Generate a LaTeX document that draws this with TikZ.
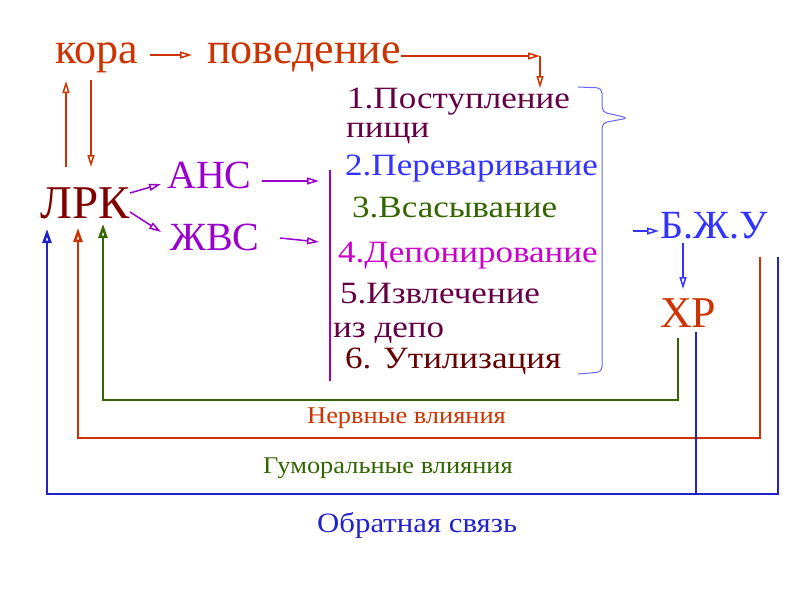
\documentclass[tikz,border=0pt]{standalone}
\usepackage{fontspec}
\setmainfont{Liberation Serif}
\newfontfamily\wideitem[FakeStretch=1.13]{Liberation Serif}
\newfontfamily\widelbl[FakeStretch=1.1]{Liberation Serif}
\usetikzlibrary{arrows.meta}
\definecolor{cred}{RGB}{204,51,0}
\definecolor{cdred}{RGB}{128,0,0}
\definecolor{cpurp}{RGB}{153,0,204}
\definecolor{cplum}{RGB}{102,0,68}
\definecolor{cblue}{RGB}{51,51,255}
\definecolor{cgreen}{RGB}{51,102,0}
\definecolor{cmag}{RGB}{204,0,204}
\definecolor{cmaroon}{RGB}{102,0,0}
\definecolor{cbrace}{RGB}{102,102,255}
\definecolor{cfb}{RGB}{34,34,204}
\begin{document}
\begin{tikzpicture}[x=1pt,y=-1pt,
  lbl/.style={inner sep=0pt, anchor=base west},
  big/.style={font=\fontsize{44}{50}\selectfont},
  mid/.style={font=\fontsize{40}{46}\selectfont},
  item/.style={font=\wideitem\fontsize{31}{36}\selectfont},
  small/.style={font=\widelbl\fontsize{24}{28}\selectfont},
  arr/.style={-{Triangle[open,length=12pt,width=7pt]}, line width=1.5pt},
  fb/.style={line width=2.5pt},
]
\useasboundingbox[fill=white] (0,0) rectangle (800,600);

% top row
\node[lbl,big,text=cred] (kora) at (55,63) {кора};
\node[lbl,big,text=cred] (pov) at (207,63) {поведение};
\node[lbl,font=\fontsize{47}{52}\selectfont,text=cdred] (lrk) at (40,218) {ЛРК};
\node[lbl,mid,text=cpurp] (ans) at (167,188) {АНС};
\node[lbl,mid,text=cpurp] (zhvs) at (170,250) {ЖВС};

% list
\node[lbl,item,text=cplum] (i1) at (347,108) {1.Поступление};
\node[lbl,item,text=cplum] (i1b) at (346,137) {пищи};
\node[lbl,item,text=cblue] (i2) at (345,175) {2.Переваривание};
\node[lbl,item,text=cgreen] (i3) at (352,217) {3.Всасывание};
\node[lbl,item,text=cmag] (i4) at (338,262) {4.Депонирование};
\node[lbl,item,text=cplum] (i5) at (340,303) {5.Извлечение};
\node[lbl,item,text=cplum] (i5b) at (333,337) {из депо};
\node[lbl,item,text=cmaroon] (i6) at (345,368) {6. Утилизация};

% right
\node[lbl,mid,text=cblue] (bzhu) at (660,238) {Б.Ж.У};
\node[lbl,big,text=cred] (xr) at (660,327) {ХР};

% bottom labels
\node[lbl,small,text=cred] (nerv) at (307,423) {Нервные влияния};
\node[lbl,small,text=cgreen] (hum) at (263,473) {Гуморальные влияния};
\node[lbl,font=\widelbl\fontsize{28}{32}\selectfont,text=cfb] (obr) at (317,532) {Обратная связь};

% coordinates
\coordinate (k1) at (150,55); \coordinate (k2) at (192,55);
\coordinate (p1) at (401,56); \coordinate (p2) at (540,56); \coordinate (p3) at (540,88);
\coordinate (u1) at (66,167); \coordinate (u2) at (66,81);
\coordinate (d1) at (91,80); \coordinate (d2) at (91,167);
\coordinate (la1) at (130,193); \coordinate (la2) at (161,184);
\coordinate (lz1) at (130,212); \coordinate (lz2) at (161,232);
\coordinate (a1) at (262,181); \coordinate (a2) at (319,181);
\coordinate (z1) at (280,238); \coordinate (z2) at (319,242);
\coordinate (v1) at (330,170); \coordinate (v2) at (330,381);
\coordinate (b1) at (633,231); \coordinate (b2) at (659,231);
\coordinate (bx1) at (683,243); \coordinate (bx2) at (683,289);
\coordinate (g1) at (678,338); \coordinate (g2) at (678,400); \coordinate (g3) at (103,400); \coordinate (g4) at (103,224);
\coordinate (r1) at (760,257); \coordinate (r2) at (760,438); \coordinate (r3) at (78,438); \coordinate (r4) at (78,228);
\coordinate (f1) at (778,257); \coordinate (f2) at (778,494); \coordinate (f3) at (47,494); \coordinate (f4) at (47,229);
\coordinate (x1) at (696,332); \coordinate (x2) at (696,494);

% connectors
\draw[arr,cred] (k1) -- (k2);
\draw[arr,cred] (p1) -- (p2);
\draw[arr,cred] (p2) -- (p3);
\draw[arr,cred] (u1) -- (u2);
\draw[arr,cred] (d1) -- (d2);
\draw[arr,cpurp] (la1) -- (la2);
\draw[arr,cpurp] (lz1) -- (lz2);
\draw[arr,cpurp] (a1) -- (a2);
\draw[arr,cpurp] (z1) -- (z2);
\draw[line width=2pt,cpurp] (v1) -- (v2);
\draw[arr,cblue] (b1) -- (b2);
\draw[arr,cblue] (bx1) -- (bx2);

% brace
\draw[cbrace,line width=1pt,rounded corners=5pt]
  (578,87) -- (602,88) -- (602,112) -- (628,118) -- (602,123) -- (602,372) -- (578,374);

% feedback lines
\draw[fb,cgreen,-{Triangle[open,length=14pt,width=9pt]}] (g1) -- (g2) -- (g3) -- (g4);
\draw[fb,cred,-{Triangle[open,length=14pt,width=9pt]}] (r1) -- (r2) -- (r3) -- (r4);
\draw[fb,cfb,-{Triangle[open,length=14pt,width=9pt]}] (f1) -- (f2) -- (f3) -- (f4);
\draw[fb,cfb] (x1) -- (x2);
\end{tikzpicture}
\end{document}
